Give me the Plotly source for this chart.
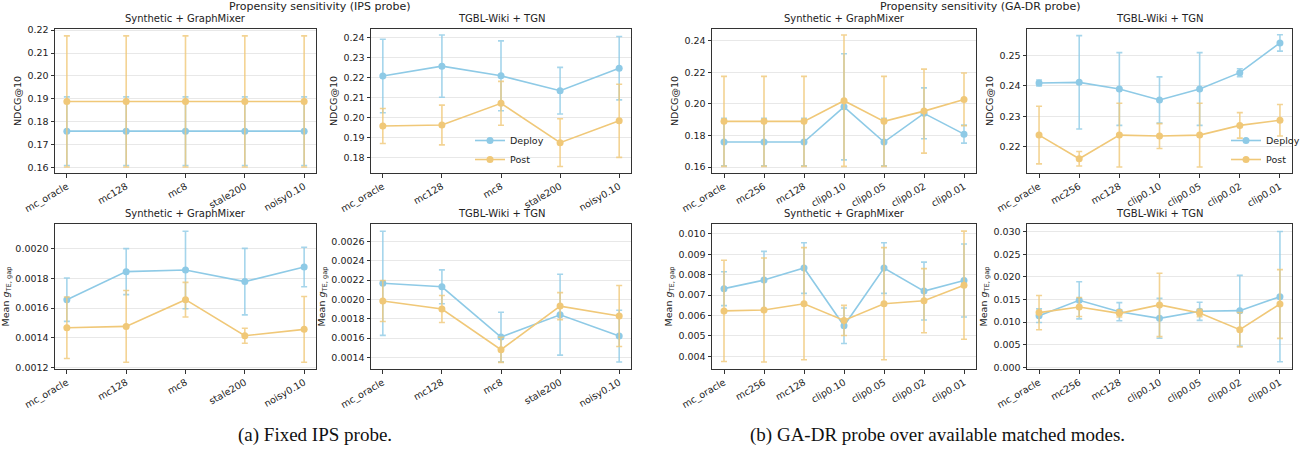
import plotly.graph_objects as go

W, H = 1304, 451

ips_modes = ["mc_oracle", "mc128", "mc8", "stale200", "noisy0.10"]
gadr_modes = ["mc_oracle", "mc256", "mc128", "clip0.10", "clip0.05", "clip0.02", "clip0.01"]

# (a) IPS probe - Synthetic + GraphMixer, NDCG@10
ips_syn_ndcg_deploy = [0.1758, 0.1758, 0.1758, 0.1758, 0.1758]
ips_syn_ndcg_deploy_err = [0.0150, 0.0150, 0.0150, 0.0150, 0.0150]
ips_syn_ndcg_post = [0.1888, 0.1888, 0.1888, 0.1888, 0.1888]
ips_syn_ndcg_post_err = [0.0287, 0.0287, 0.0287, 0.0287, 0.0287]

# (a) IPS probe - TGBL-Wiki + TGN, NDCG@10
ips_wiki_ndcg_deploy = [0.2208, 0.2257, 0.2209, 0.2135, 0.2247]
ips_wiki_ndcg_deploy_err = [0.0183, 0.0155, 0.0174, 0.0116, 0.0158]
ips_wiki_ndcg_post = [0.1959, 0.1964, 0.2072, 0.1876, 0.1985]
ips_wiki_ndcg_post_err = [0.0087, 0.0099, 0.0109, 0.0119, 0.0182]

# (a) IPS probe - Synthetic + GraphMixer, Mean g
ips_syn_g_deploy = [0.001656, 0.001845, 0.001856, 0.001778, 0.001876]
ips_syn_g_deploy_err = [0.000146, 0.000155, 0.000261, 0.000224, 0.000133]
ips_syn_g_post = [0.001467, 0.001476, 0.001656, 0.001413, 0.001456]
ips_syn_g_post_err = [0.000207, 0.000242, 0.000117, 0.000051, 0.000222]

# (a) IPS probe - TGBL-Wiki + TGN, Mean g
ips_wiki_g_deploy = [0.002166, 0.002130, 0.001610, 0.001841, 0.001620]
ips_wiki_g_deploy_err = [0.000538, 0.000175, 0.000256, 0.000418, 0.000267]
ips_wiki_g_post = [0.001983, 0.001900, 0.001479, 0.001930, 0.001828]
ips_wiki_g_post_err = [0.000212, 0.000140, 0.000130, 0.000140, 0.000315]

# (b) GA-DR probe - Synthetic + GraphMixer, NDCG@10
gadr_syn_ndcg_deploy = [0.1758, 0.1758, 0.1758, 0.1981, 0.1758, 0.1940, 0.1808]
gadr_syn_ndcg_deploy_err = [0.0150, 0.0150, 0.0150, 0.0336, 0.0150, 0.0161, 0.0057]
gadr_syn_ndcg_post = [0.1889, 0.1889, 0.1889, 0.2020, 0.1889, 0.1954, 0.2028]
gadr_syn_ndcg_post_err = [0.0285, 0.0285, 0.0285, 0.0416, 0.0285, 0.0266, 0.0167]

# (b) GA-DR probe - TGBL-Wiki + TGN, NDCG@10
gadr_wiki_ndcg_deploy = [0.2410, 0.2412, 0.2390, 0.2354, 0.2390, 0.2444, 0.2542]
gadr_wiki_ndcg_deploy_err = [0.0010, 0.0154, 0.0120, 0.0076, 0.0120, 0.0013, 0.0027]
gadr_wiki_ndcg_post = [0.2238, 0.2160, 0.2238, 0.2235, 0.2238, 0.2270, 0.2287]
gadr_wiki_ndcg_post_err = [0.0095, 0.0024, 0.0105, 0.0041, 0.0105, 0.0042, 0.0052]

# (b) GA-DR probe - Synthetic + GraphMixer, Mean g
gadr_syn_g_deploy = [0.00732, 0.00774, 0.00833, 0.00550, 0.00833, 0.00720, 0.00772]
gadr_syn_g_deploy_err = [0.00083, 0.00141, 0.00124, 0.00087, 0.00124, 0.00142, 0.00179]
gadr_syn_g_post = [0.00623, 0.00627, 0.00658, 0.00576, 0.00658, 0.00673, 0.00749]
gadr_syn_g_post_err = [0.00248, 0.00255, 0.00275, 0.00074, 0.00275, 0.00157, 0.00265]

# (b) GA-DR probe - TGBL-Wiki + TGN, Mean g
gadr_wiki_g_deploy = [0.01143, 0.01482, 0.01231, 0.01084, 0.01239, 0.01253, 0.01563]
gadr_wiki_g_deploy_err = [0.0015, 0.0041, 0.0020, 0.0044, 0.0020, 0.0078, 0.0144]
gadr_wiki_g_post = [0.01210, 0.01335, 0.01194, 0.01380, 0.01201, 0.00833, 0.01401]
gadr_wiki_g_post_err = [0.0038, 0.0021, 0.0008, 0.0070, 0.0008, 0.0038, 0.0076]

DEPLOY = "#8ecae6"
DEPLOY_ERR = "rgba(142,202,230,0.8)"
POST = "#f0c878"
POST_ERR = "rgba(240,200,120,0.8)"

NDCG_TITLE = "NDCG@10"
G_TITLE = "Mean <i>g</i><sub>TE, gap</sub>"

panels = [
    (ips_modes, ips_syn_ndcg_deploy, ips_syn_ndcg_deploy_err, ips_syn_ndcg_post, ips_syn_ndcg_post_err,
     "Synthetic + GraphMixer", NDCG_TITLE, [0.1575, 0.2205], 0.01, ".2f", 0, 0, None),
    (ips_modes, ips_wiki_ndcg_deploy, ips_wiki_ndcg_deploy_err, ips_wiki_ndcg_post, ips_wiki_ndcg_post_err,
     "TGBL-Wiki + TGN", NDCG_TITLE, [0.1725, 0.2442], 0.01, ".2f", 1, 0, "legend"),
    (ips_modes, ips_syn_g_deploy, ips_syn_g_deploy_err, ips_syn_g_post, ips_syn_g_post_err,
     "Synthetic + GraphMixer", G_TITLE, [0.001189, 0.002166], 0.0002, ".4f", 0, 1, None),
    (ips_modes, ips_wiki_g_deploy, ips_wiki_g_deploy_err, ips_wiki_g_post, ips_wiki_g_post_err,
     "TGBL-Wiki + TGN", G_TITLE, [0.00128, 0.002779], 0.0002, ".4f", 1, 1, None),
    (gadr_modes, gadr_syn_ndcg_deploy, gadr_syn_ndcg_deploy_err, gadr_syn_ndcg_post, gadr_syn_ndcg_post_err,
     "Synthetic + GraphMixer", NDCG_TITLE, [0.1562, 0.2474], 0.02, ".2f", 2, 0, None),
    (gadr_modes, gadr_wiki_ndcg_deploy, gadr_wiki_ndcg_deploy_err, gadr_wiki_ndcg_post, gadr_wiki_ndcg_post_err,
     "TGBL-Wiki + TGN", NDCG_TITLE, [0.2113, 0.2588], 0.01, ".2f", 3, 0, "legend2"),
    (gadr_modes, gadr_syn_g_deploy, gadr_syn_g_deploy_err, gadr_syn_g_post, gadr_syn_g_post_err,
     "Synthetic + GraphMixer", G_TITLE, [0.00338, 0.01049], 0.001, ".3f", 2, 1, None),
    (gadr_modes, gadr_wiki_g_deploy, gadr_wiki_g_deploy_err, gadr_wiki_g_post, gadr_wiki_g_post_err,
     "TGBL-Wiki + TGN", G_TITLE, [-0.00037, 0.0317], 0.005, ".3f", 3, 1, None),
]

col_px = [(55, 316), (371, 631), (712, 976), (1027, 1292)]
row_px = [(29, 173), (224, 369)]

fig = go.Figure()
layout = {}
annotations = []
TXT = "#222222"
FONT = "DejaVu Sans"

for i, (modes, dv, de, pv, pe, title, ytitle, yr, dtick, fmt, c, r, leg) in enumerate(panels):
    n = i + 1
    xa = "x" if n == 1 else f"x{n}"
    ya = "y" if n == 1 else f"y{n}"
    x0, x1 = col_px[c]
    t0, t1 = row_px[r]
    xdom = [x0 / W, x1 / W]
    ydom = [1 - t1 / H, 1 - t0 / H]
    idx = list(range(len(modes)))
    show = leg is not None
    for name, vals, errs, col, ecol in (("Deploy", dv, de, DEPLOY, DEPLOY_ERR), ("Post", pv, pe, POST, POST_ERR)):
        tr = dict(
            x=idx, y=vals, name=name, mode="lines+markers",
            line=dict(color=col, width=1.6),
            marker=dict(color=col, size=7),
            error_y=dict(type="data", array=errs, visible=True, color=ecol, thickness=1.6, width=3),
            xaxis=xa, yaxis=ya, showlegend=show,
        )
        if show:
            tr["legend"] = leg
        fig.add_trace(go.Scatter(**tr))
    npts = len(modes)
    layout[f"xaxis{'' if n == 1 else n}"] = dict(
        domain=xdom, anchor=ya, range=[-0.05 * (npts - 1), (npts - 1) * 1.05],
        tickmode="array", tickvals=idx, ticktext=modes, tickangle=-30,
        showline=True, linecolor="#333333", linewidth=1, mirror=True,
        ticks="outside", ticklen=3.5, tickcolor="#333333",
        showgrid=False, zeroline=False, automargin=False,
        tickfont=dict(family=FONT, size=9.5, color=TXT),
    )
    layout[f"yaxis{'' if n == 1 else n}"] = dict(
        domain=ydom, anchor=xa, range=yr, dtick=dtick, tick0=0, tickformat=fmt,
        showline=True, linecolor="#333333", linewidth=1, mirror=True,
        ticks="outside", ticklen=3.5, tickcolor="#333333",
        showgrid=True, gridcolor="#e8e8e8", gridwidth=1, zeroline=False, automargin=False,
        tickfont=dict(family=FONT, size=9.5, color=TXT),
        title=dict(text=ytitle, font=dict(family=FONT, size=9.5, color=TXT), standoff=4),
    )
    annotations.append(dict(
        text=title, xref="paper", yref="paper", x=(xdom[0] + xdom[1]) / 2, y=ydom[1],
        xanchor="center", yanchor="bottom", yshift=3, showarrow=False,
        font=dict(family=FONT, size=10, color=TXT),
    ))

annotations.append(dict(text="Propensity sensitivity (IPS probe)", xref="paper", yref="paper",
                        x=319 / W, y=1 - 7 / H, xanchor="center", yanchor="middle", showarrow=False,
                        font=dict(family=FONT, size=11, color=TXT)))
annotations.append(dict(text="Propensity sensitivity (GA-DR probe)", xref="paper", yref="paper",
                        x=980 / W, y=1 - 7 / H, xanchor="center", yanchor="middle", showarrow=False,
                        font=dict(family=FONT, size=11, color=TXT)))
annotations.append(dict(text="(a) Fixed IPS probe.", xref="paper", yref="paper",
                        x=315 / W, y=1 - 435 / H, xanchor="center", yanchor="middle", showarrow=False,
                        font=dict(family="Liberation Serif", size=19, color="#111111")))
annotations.append(dict(text="(b) GA-DR probe over available matched modes.", xref="paper", yref="paper",
                        x=938 / W, y=1 - 435 / H, xanchor="center", yanchor="middle", showarrow=False,
                        font=dict(family="Liberation Serif", size=19, color="#111111")))

legend_common = dict(bgcolor="rgba(255,255,255,0)", borderwidth=0,
                     font=dict(family=FONT, size=9.5, color=TXT), itemwidth=30,
                     tracegroupgap=0, xanchor="left", yanchor="bottom")
layout["legend"] = dict(legend_common, x=470 / W, y=1 - 174 / H)
layout["legend2"] = dict(legend_common, x=1226 / W, y=1 - 174 / H)

fig.update_layout(
    width=W, height=H, margin=dict(l=0, r=0, t=0, b=0, autoexpand=False),
    paper_bgcolor="white", plot_bgcolor="white",
    annotations=annotations, **layout,
)

fig.write_html(
    "out.html",
    config={"displayModeBar": False},
    post_script="document.body.style.margin='0px';document.body.style.overflow='hidden';",
)
